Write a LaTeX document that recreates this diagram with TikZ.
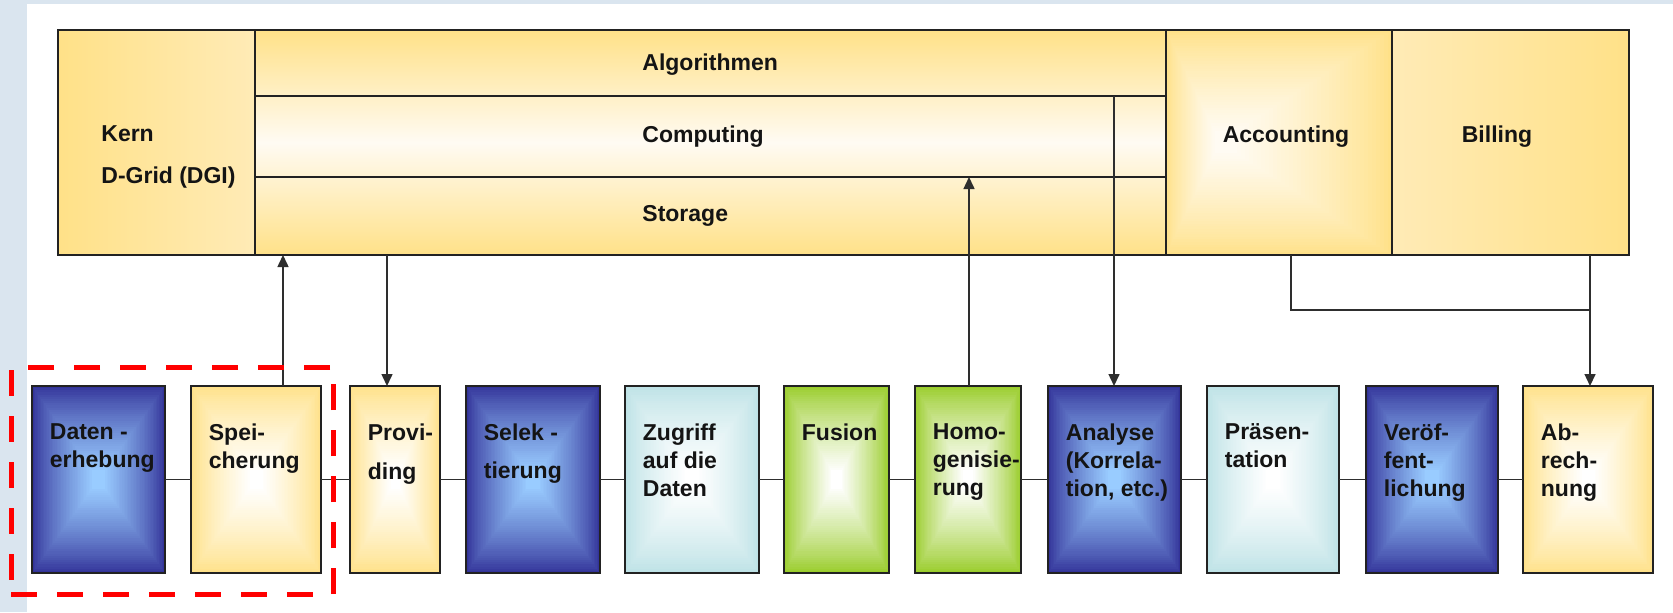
\documentclass[tikz,border=0pt]{standalone}
\usepackage{fontspec}
\setmainfont{Liberation Sans}
\usetikzlibrary{arrows.meta,calc}
\definecolor{bgblue}{HTML}{DAE5EF}
\definecolor{yelD}{HTML}{FFE188}
\definecolor{yelM}{HTML}{FFEBB6}
\definecolor{yelL}{HTML}{FFFBF3}
\definecolor{navy}{HTML}{333399}
\definecolor{sky}{HTML}{99CCFF}
\definecolor{cyanE}{HTML}{BDE2E6}
\definecolor{greenE}{HTML}{99CC29}
\definecolor{lineC}{HTML}{222222}
\definecolor{connC}{HTML}{2E2E2E}
\definecolor{txt}{HTML}{141414}

% rectangular "path" gradient: x1 y1 x2 y2 cx cy outer inner
\newcommand\pgbox[8]{%
  \foreach \i in {0,...,39}{%
    \pgfmathsetmacro\ff{1-0.9*\i/39}%
    \pgfmathtruncatemacro\pp{100*(\i/39)^0.8}%
    \fill[#8!\pp!#7] ({#5-(#5-(#1))*\ff},{#6-(#6-(#2))*\ff}) rectangle ({#5+((#3)-#5)*\ff},{#6+((#4)-#6)*\ff});%
  }}

\tikzset{
  stagebox/.style={draw=lineC, line width=0.75pt, inner sep=0pt, outer sep=0pt, minimum height=93.5pt},
  stagetext/.style={anchor=north west, inner sep=0pt, align=left, text=txt, font=\bfseries\fontsize{11.5}{14}\selectfont},
  toptext/.style={inner sep=0pt, text=txt, font=\bfseries\fontsize{11.5}{14}\selectfont},
  cell/.style={draw=lineC, line width=0.8pt, inner sep=0pt, outer sep=0pt},
  conn/.style={draw=connC, line width=0.75pt},
  arr/.style={conn, -{Triangle[length=6pt,width=5.5pt]}},
  groupbox/.style={draw=red, line width=2.5pt, dash pattern=on 13pt off 10pt, inner sep=0pt, outer sep=0pt}
}

\newcommand\cellnode[5]{%
  \node[cell, minimum width={(#4-#2)*0.5pt}, minimum height={(#5-#3)*0.5pt}] (#1) at ({(#2+#4)/2},{(#3+#5)/2}) {};}

\newcommand\stage[6]{%
  \pgfmathsetmacro\cx{(#2+#3)/2}%
  \pgbox{#2}{386}{#3}{573}{\cx}{479.5}{#4}{#5}%
  \node[stagebox, minimum width={(#3-#2)*0.5pt}] (#1) at (\cx,479.5) {};%
  \node[stagetext] (#1-t) at ({#2+17.5},423) {#6};%
}

\begin{document}
\begin{tikzpicture}[x=0.5pt,y=-0.5pt]
\useasboundingbox (0,0) rectangle (1673,612);
\fill[white] (0,0) rectangle (1673,612);
\fill[bgblue] (0,0) rectangle (27,612);
\fill[bgblue] (0,0) rectangle (1673,4);

% top block shadings
\shade[left color=yelD, right color=yelM] (58,30) rectangle (255,255);
\shade[top color=yelD, bottom color=yelD, middle color=yelL] (255,30) rectangle (1166,255);
\pgbox{1166}{30}{1392}{255}{1220}{142}{yelD}{yelL}
\shade[left color=yelM, right color=yelD] (1392,30) rectangle (1629,255);

% top cells
\cellnode{kern}{58}{30}{255}{255}
\cellnode{algo}{255}{30}{1166}{96}
\cellnode{comp}{255}{96}{1166}{177}
\cellnode{stor}{255}{177}{1166}{255}
\cellnode{acc}{1166}{30}{1392}{255}
\cellnode{bill}{1392}{30}{1629}{255}

\node[toptext, anchor=north west, align=left] (kern-t) at (101,125.5) {Kern\\[7pt]D-Grid (DGI)};
\node[toptext, anchor=base west] (algo-t) at (642,70) {Algorithmen};
\node[toptext, anchor=base west] (comp-t) at (642,142) {Computing};
\node[toptext, anchor=base west] (stor-t) at (642,221) {Storage};
\node[toptext, anchor=base] (acc-t) at (1286,142) {Accounting};
\node[toptext, anchor=base] (bill-t) at (1497,142) {Billing};

% process stages
\stage{daten}{32}{165}{navy}{sky}{Daten -\\erhebung}
\stage{speich}{191}{321}{yelD}{white}{Spei-\\cherung}
\stage{prov}{350}{440}{yelD}{white}{Provi-\\[5.5pt]ding}
\stage{selek}{466}{600}{navy}{sky}{Selek -\\[5pt]tierung}
\stage{zugriff}{625}{759}{cyanE}{white}{Zugriff\\auf die\\Daten}
\stage{fusion}{784}{889}{greenE}{white}{Fusion}
\stage{homo}{915}{1021}{greenE}{white}{Homo-\\genisie-\\rung}
\stage{analyse}{1048}{1181}{navy}{sky}{Analyse\\(Korrela-\\tion, etc.)}
\stage{praes}{1207}{1339}{cyanE}{white}{Präsen-\\tation}
\stage{veroeff}{1366}{1498}{navy}{sky}{Veröf-\\fent-\\lichung}
\stage{abrech}{1523}{1653}{yelD}{white}{Ab-\\rech-\\nung}

% chain connectors
\draw[conn] (daten) -- (speich);
\draw[conn] (speich) -- (prov);
\draw[conn] (prov) -- (selek);
\draw[conn] (selek) -- (zugriff);
\draw[conn] (zugriff) -- (fusion);
\draw[conn] (fusion) -- (homo);
\draw[conn] (homo) -- (analyse);
\draw[conn] (analyse) -- (praes);
\draw[conn] (praes) -- (veroeff);
\draw[conn] (veroeff) -- (abrech);

% vertical connectors
\coordinate (s1) at ($(speich.north west)+(92,0)$);
\draw[arr] (s1) -- (s1 |- stor.south);
\coordinate (p1) at ($(prov.north west)+(37,0)$);
\draw[arr] (p1 |- stor.south) -- (p1);
\coordinate (h1) at ($(homo.north west)+(54,0)$);
\draw[arr] (h1) -- (h1 |- comp.south);
\coordinate (a1) at ($(analyse.north west)+(66,0)$);
\draw[arr] (a1 |- comp.north) -- (a1);
\coordinate (b1) at ($(acc.south west)+(125,0)$);
\coordinate (b2) at ($(bill.south west)+(198,0)$);
\coordinate (j1) at ($(b1)+(0,55)$);
\draw[conn] (b1) -- (j1) -| (b2);
\draw[arr] (b2) -- (b2 |- abrech.north);

% red dashed group frame
\node[groupbox, minimum width=161pt, minimum height=113.5pt] (grp) at (172,480.5) {};
\end{tikzpicture}
\end{document}
